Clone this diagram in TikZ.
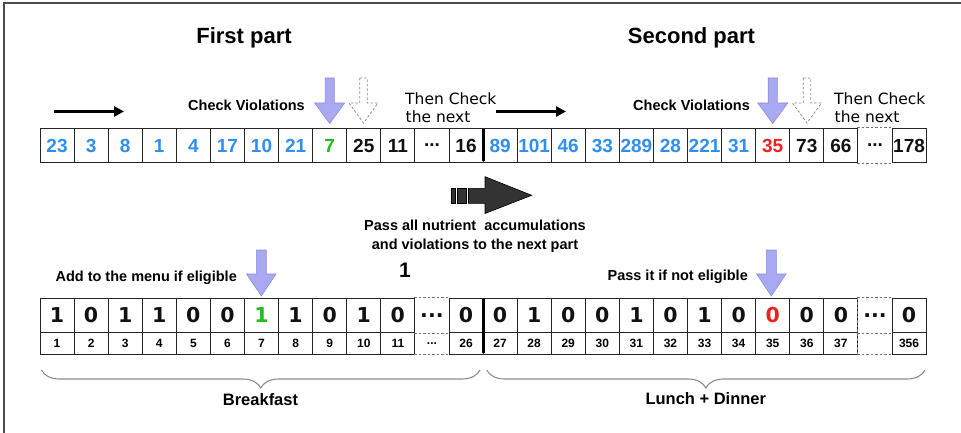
\documentclass[tikz,border=0pt]{standalone}
\usepackage{fontspec}
\setmainfont{Liberation Sans}
\newfontfamily\dvs{DejaVu Sans}
\usetikzlibrary{arrows.meta,decorations.pathreplacing}
\newcommand\myddd{...}
\definecolor{nblue}{HTML}{2F8FF0}
\definecolor{ngreen}{HTML}{22BB22}
\definecolor{nred}{HTML}{EE2020}
\definecolor{nblack}{HTML}{111111}
\definecolor{lav}{HTML}{A9A9F2}
\definecolor{lavline}{HTML}{8C8CDD}
\definecolor{darkarr}{HTML}{333333}
\tikzset{
  cellT/.style={minimum width=34.08pt, minimum height=34.4pt, inner sep=0pt, line width=0.9pt, draw=black!85,
                font=\fontsize{19}{19}\selectfont\bfseries},
  cellTnd/.style={cellT, draw=none},
  cellB/.style={minimum width=34.08pt, minimum height=34.4pt, inner sep=0pt, line width=0.9pt, draw=black!85,
                font=\dvs\fontsize{20.5}{20.5}\selectfont\bfseries},
  cellBnd/.style={cellB, draw=none},
  cellN/.style={minimum width=34.08pt, minimum height=21.3pt, inner sep=0pt, line width=0.9pt, draw=black!85,
                font=\fontsize{12}{12}\selectfont\bfseries},
  cellNnd/.style={cellN, draw=none},
  lbl/.style={inner sep=0pt, font=\fontsize{14.5}{14.5}\selectfont\bfseries},
  thenlbl/.style={inner sep=0pt, font=\dvs\fontsize{15.5}{15.5}\selectfont, text=black},
  title/.style={inner sep=0pt, font=\fontsize{22}{22}\selectfont\bfseries},
  dotedge/.style={dashed, dash pattern=on 2.5pt off 2pt, line width=0.9pt, draw=black!55},
  lavarrow/.style={fill=lav, draw=lavline, line width=0.6pt},
  ghostarrow/.style={draw=black!45, dashed, dash pattern=on 2.5pt off 2pt, line width=0.8pt},
  blackarrow/.style={line width=2.8pt, -{Triangle[length=10pt,width=10pt]}},
  bracestyle/.style={draw=black!45, line width=1.1pt, decorate, decoration={brace, mirror, amplitude=18pt}},
  divider/.style={line width=3pt, black}
}
\begin{document}
\begin{tikzpicture}[x=1pt,y=-1pt]
\useasboundingbox (0,0) rectangle (961,433);
\fill[white] (0,0) rectangle (961,433);
% frame (top and left only)
\draw[black!70, line width=1.2pt] (4,433) -- (4,3) -- (961,3);

% titles
\node[title] (title1) at (244,38) {First part};
\node[title] (title2) at (691.5,38) {Second part};

% top row
\foreach \v/\c/\s [count=\i] in {23/nblue/cellT, 3/nblue/cellT, 8/nblue/cellT, 1/nblue/cellT, 4/nblue/cellT,
  17/nblue/cellT, 10/nblue/cellT, 21/nblue/cellT, 7/ngreen/cellT, 25/nblack/cellT, 11/nblack/cellT,
  \myddd/nblack/cellT, 16/nblack/cellT,
  89/nblue/cellT, 101/nblue/cellT, 46/nblue/cellT, 33/nblue/cellT, 289/nblue/cellT, 28/nblue/cellT,
  221/nblue/cellT, 31/nblue/cellT, 35/nred/cellT, 73/nblack/cellT, 66/nblack/cellT, \myddd/nblack/cellTnd,
  178/nblack/cellT}
{
  \pgfmathsetmacro{\cx}{40+(\i-0.5)*34.08}
  \node[\s, text=\c] (t\i) at (\cx,145.5) {\v};
}
\draw[dotedge] (t25.north west) -- (t25.north east);
\draw[dotedge] (t25.south west) -- (t25.south east);

% bottom rows
\foreach \v/\c/\s/\n/\ns [count=\i] in {1/nblack/cellB/1/cellN, 0/nblack/cellB/2/cellN, 1/nblack/cellB/3/cellN,
  1/nblack/cellB/4/cellN, 0/nblack/cellB/5/cellN, 0/nblack/cellB/6/cellN, 1/ngreen/cellB/7/cellN,
  1/nblack/cellB/8/cellN, 0/nblack/cellB/9/cellN, 1/nblack/cellB/10/cellN, 0/nblack/cellB/11/cellN,
  \myddd/nblack/cellBnd/\myddd/cellNnd, 0/nblack/cellB/26/cellN,
  0/nblack/cellB/27/cellN, 1/nblack/cellB/28/cellN, 0/nblack/cellB/29/cellN, 0/nblack/cellB/30/cellN,
  1/nblack/cellB/31/cellN, 0/nblack/cellB/32/cellN, 1/nblack/cellB/33/cellN, 0/nblack/cellB/34/cellN,
  0/nred/cellB/35/cellN, 0/nblack/cellB/36/cellN, 0/nblack/cellB/37/cellN,
  \myddd/nblack/cellBnd/{}/cellNnd, 0/nblack/cellB/356/cellN}
{
  \pgfmathsetmacro{\cx}{40+(\i-0.5)*34.08}
  \node[\s, text=\c] (b\i) at (\cx,315.5) {\v};
  \node[\ns] (n\i) at (\cx,343.35) {\n};
}
\foreach \k in {12,25}{
  \draw[dotedge] (b\k.north west) -- (b\k.north east);
  \draw[dotedge] (b\k.south west) -- (b\k.south east);
  \draw[dotedge] (n\k.south west) -- (n\k.south east);
}
\draw[dotedge] (b25.north west) -- (n25.south west);

% dividers between parts
\draw[divider] ([yshift=-1pt]t13.north east) -- ([yshift=2pt]t13.south east);
\draw[divider] ([yshift=-1pt]b13.north east) -- ([yshift=1pt]n13.south east);

% black direction arrows
\coordinate (a1s) at (54,111.5); \coordinate (a1e) at (124,111.5);
\coordinate (a2s) at (496,111.5); \coordinate (a2e) at (566,111.5);
\draw[blackarrow] (a1s) -- (a1e);
\draw[blackarrow] (a2s) -- (a2e);

% check violations labels
\node[lbl, anchor=east] (cv1) at (305,105) {Check Violations};
\node[lbl, anchor=east] (cv2) at (750,105) {Check Violations};

% lavender arrows (top)
\foreach \cx in {329.7,772.8}{
  \draw[lavarrow] (\cx-4.6,78) -- (\cx+4.6,78) -- (\cx+4.6,103) -- (\cx+15,103) -- (\cx,123.5)
     -- (\cx-15,103) -- (\cx-4.6,103) -- cycle;
}
% ghost arrows
\foreach \cx in {363.5,807}{
  \draw[ghostarrow] (\cx-3.8,78) -- (\cx+3.8,78) -- (\cx+3.8,103) -- (\cx+14.5,103) -- (\cx,123)
     -- (\cx-14.5,103) -- (\cx-3.8,103) -- cycle;
}
% then check labels
\node[thenlbl, anchor=base west] (tc1) at (405,105) {Then Check};
\node[thenlbl, anchor=base west] (tn1) at (405.5,122.5) {the next};
\node[thenlbl, anchor=base west] (tc2) at (834,105) {Then Check};
\node[thenlbl, anchor=base west] (tn2) at (834.5,122.5) {the next};

% middle dark arrow
\begin{scope}[fill=darkarr, draw=black, line width=0.6pt]
  \filldraw (451.7,188.3) rectangle (455,203.3);
  \filldraw (457.5,188.3) rectangle (466,203.3);
  \filldraw (468.5,188.3) -- (485,188.3) -- (485,176.7) -- (531.7,195.3) -- (485,213.5)
     -- (485,203.3) -- (468.5,203.3) -- cycle;
\end{scope}
\node[lbl] (pass1) at (475,225) {Pass all nutrient\ \ accumulations};
\node[lbl] (pass2) at (475,246) {and violations to the next part};
\node[inner sep=0pt, font=\fontsize{21}{21}\selectfont\bfseries] (one) at (405,270) {1};

% bottom labels and arrows
\node[lbl, anchor=east] (add) at (237,278) {Add to the menu if eligible};
\node[lbl, anchor=east] (passit) at (748,277) {Pass it if not eligible};
\foreach \cx in {261.3,771.3}{
  \draw[lavarrow] (\cx-5,250) -- (\cx+5,250) -- (\cx+5,274) -- (\cx+14.7,274) -- (\cx,296)
     -- (\cx-14.7,274) -- (\cx-5,274) -- cycle;
}

% braces
\coordinate (br1s) at (41.5,370); \coordinate (br1e) at (480,370);
\coordinate (br2s) at (486.7,370); \coordinate (br2e) at (925,370);
\draw[bracestyle] (br1s) -- (br1e);
\draw[bracestyle] (br2s) -- (br2e);
\node[inner sep=0pt, font=\fontsize{16.5}{16.5}\selectfont\bfseries] (bf) at (260.5,400) {Breakfast};
\node[inner sep=0pt, font=\fontsize{16.5}{16.5}\selectfont\bfseries] (ld) at (705.8,399) {Lunch + Dinner};
\end{tikzpicture}
\end{document}
